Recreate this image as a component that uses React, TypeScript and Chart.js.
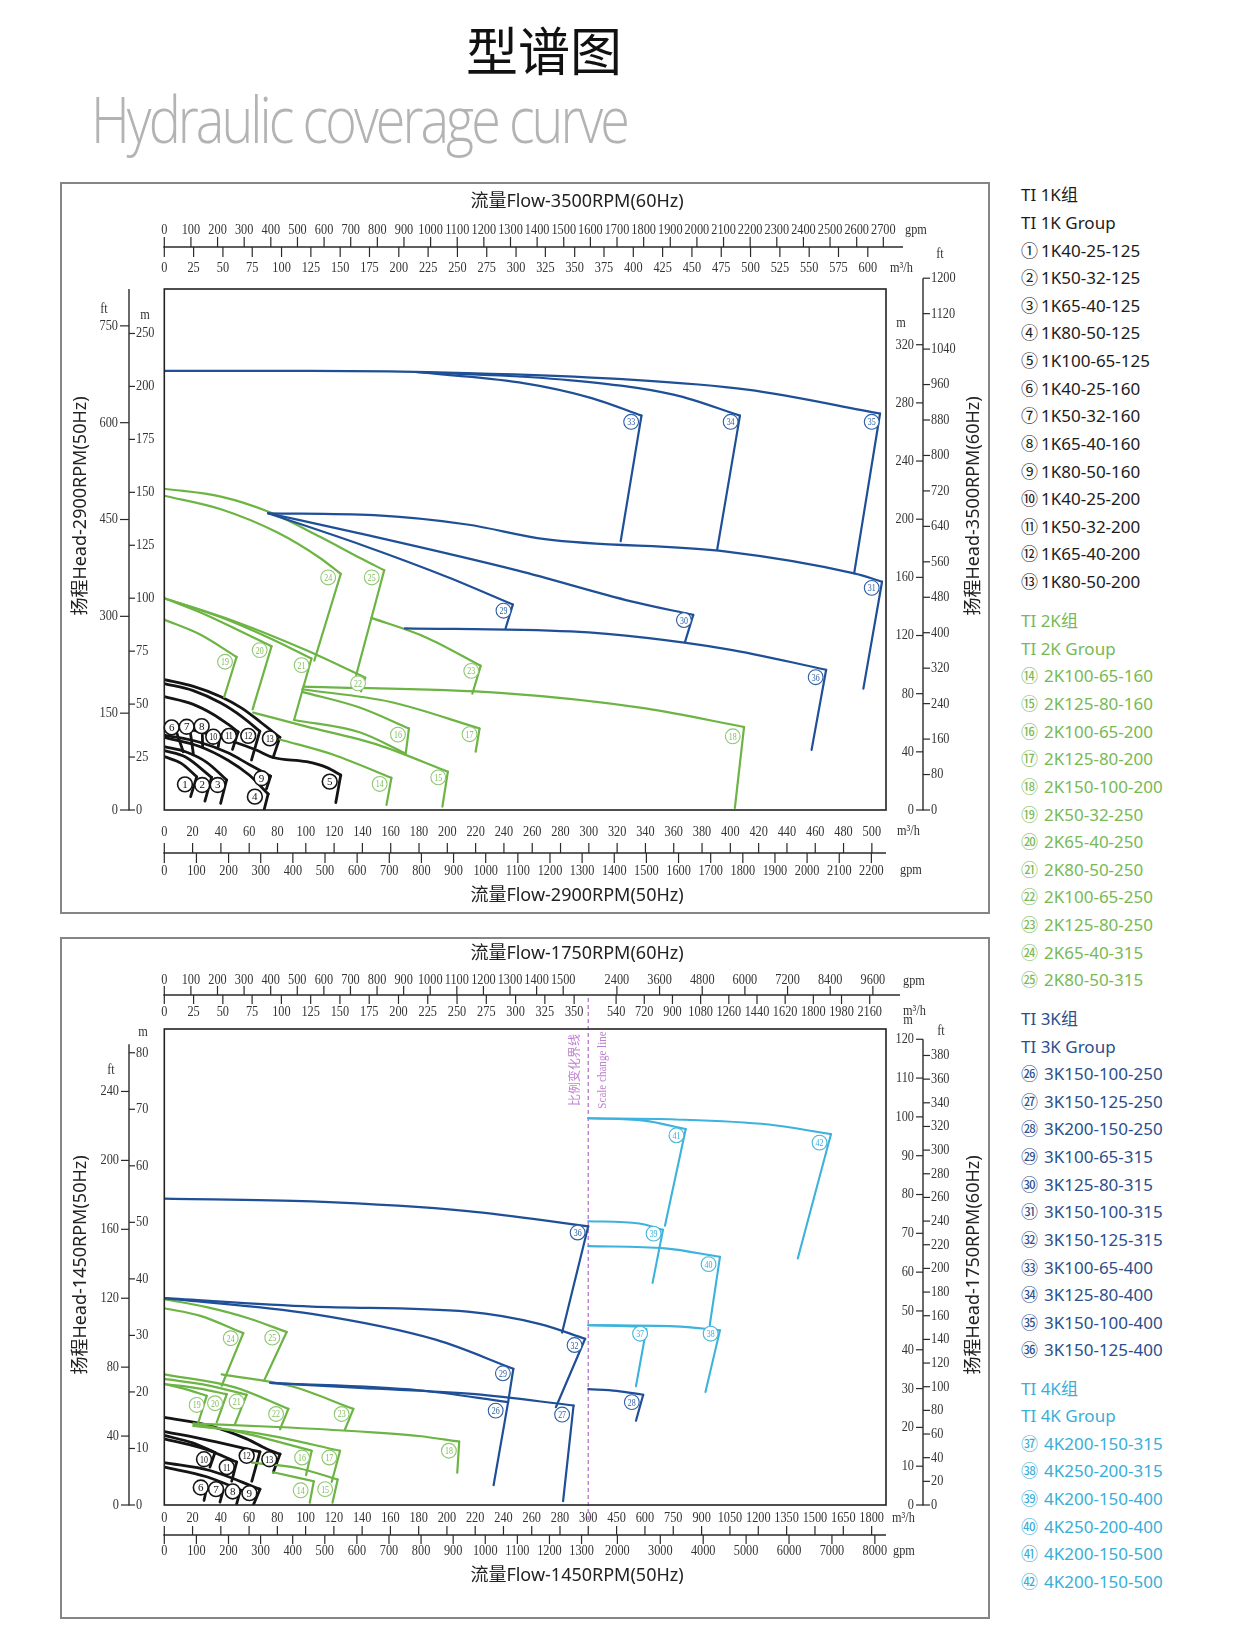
import React, { useEffect, useRef } from "react";
import { Chart, registerables, LinearScale } from "chart.js";

Chart.register(...registerables);

// ---------- unit relations read from the rulers ----------
const GPM_PER_M3H = 4.4029;
const FLOW_RATIO = 3500 / 2900; // 60Hz / 50Hz flow
const HEAD_RATIO = FLOW_RATIO * FLOW_RATIO; // 60Hz / 50Hz head
const FT_TO_M = 0.3048;
const BREAK_AT = 300; // m3/h (50Hz) where the lower chart changes scale
const BREAK_FACTOR = 7.48; // compression beyond the scale change line

class BreakLinearScale extends LinearScale {
  static id = "breakLinear";
  static defaults = {};
  tf(v: number) {
    return v <= BREAK_AT ? v : BREAK_AT + (v - BREAK_AT) / BREAK_FACTOR;
  }
  getPixelForValue(value: number) {
    const a = this.tf(this.min), b = this.tf(this.max);
    return this.getPixelForDecimal((this.tf(value) - a) / (b - a));
  }
  getValueForPixel(pixel: number) {
    const a = this.tf(this.min), b = this.tf(this.max);
    const t = a + this.getDecimalForPixel(pixel) * (b - a);
    return t <= BREAK_AT ? t : BREAK_AT + (t - BREAK_AT) * BREAK_FACTOR;
  }
}
Chart.register(BreakLinearScale);

// ---------- TOP chart (2900 rpm): x = m3/h, y = m ----------
const TOP_BLACK_LINES = [
  [[0, 61.6], [20, 58.5], [40, 53.5], [55, 48], [68, 41.5], [81.7, 34.3]],
  [[0, 59.7], [20, 56.5], [40, 50.5], [55, 44], [67.5, 37.2]],
  [[0, 53.5], [20, 50], [35, 45], [45, 40.5], [52.2, 36.9]],
  [[81.7, 34.3], [76.9, 24.8]],
  [[67.5, 37.2], [61.6, 23.6]],
  [[52.2, 36.9], [48.2, 28.6]],
  [[0, 40.1], [25, 37], [50, 32], [65, 28.3], [76.9, 24.8], [100.5, 22.8], [115, 20], [124.7, 16.5]],
  [[124.7, 16.5], [121.2, 3.5]],
  [[0, 35.4], [25, 32], [45, 27], [60, 21.5], [75.1, 16]],
  [[75.1, 16], [72.2, 10]],
  [[0, 34.3], [25, 30], [45, 23.5], [60, 16.5], [73.4, 7.6]],
  [[73.4, 7.6], [70.6, 0.3]],
  [[0, 29.9], [15, 27.5], [30, 22.5], [44, 14.2]],
  [[0, 28], [15, 25], [33.4, 15.4]],
  [[0, 25.2], [12, 22], [22.9, 15.7]],
  [[22.9, 15.7], [18.6, 6.3]],
  [[33.4, 15.4], [28.7, 4.2]],
  [[44, 14.2], [39.8, 3.1]],
  [[7.5, 39], [13.4, 27.5]],
  [[18.1, 38.2], [20.5, 26.7]],
  [[26.8, 38], [27.1, 29.9]],
  [[39.3, 34.8], [38.1, 29.9]],
];
const TOP_GREEN_LINES = [
  [[0, 151.7], [40, 148], [74.6, 140.6], [110, 129], [138, 119.1], [155.4, 113.2]],
  [[155.4, 113.2], [135.6, 63.7]],
  [[0, 148.4], [40, 142], [80, 131], [110, 119], [124.7, 111.5]],
  [[124.7, 111.5], [106, 70.5]],
  [[0, 100], [30, 92], [55, 84], [75.8, 77.3]],
  [[75.8, 77.3], [62.4, 47.5]],
  [[0, 100], [40, 91], [75, 81], [104, 71.5]],
  [[104, 71.5], [91.7, 42.5]],
  [[0, 100], [50, 89], [100, 75.5], [142, 62.5]],
  [[142, 62.5], [139, 56]],
  [[0, 89.9], [25, 83], [51.1, 72.3]],
  [[51.1, 72.3], [42.3, 53.3]],
  [[146.4, 90.7], [185, 81.5], [223.6, 68.1]],
  [[223.6, 68.1], [217.7, 54.9]],
  [[98.3, 58.3], [237.1, 55.3], [340, 48], [409.7, 39.2]],
  [[409.7, 39.2], [403.2, 1]],
  [[97.5, 57], [160, 51], [222.8, 38.5]],
  [[222.8, 38.5], [220, 27.5]],
  [[97.5, 55.8], [138, 48.4], [172.9, 38.5]],
  [[172.9, 38.5], [170.6, 26.7]],
  [[91.7, 42.5], [138, 36.7], [170.6, 26.7]],
  [[62.8, 46], [100, 39.5], [150, 31], [200.4, 18.1]],
  [[200.4, 18.1], [196.5, 1.6]],
  [[81.7, 33.3], [120, 26], [160.5, 15.2]],
  [[160.5, 15.2], [157, 2.4]],
];
const TOP_BLUE_LINES = [
  [[0, 207.3], [104, 207.3], [214, 206.3], [324, 203.4], [412, 198.5], [505.8, 187.2]],
  [[177.4, 206.8], [287.3, 202.9], [360.6, 196], [406.8, 186.2]],
  [[177.4, 206.8], [250.7, 201.9], [302, 194.5], [337.2, 186.2]],
  [[337.2, 186.2], [322.5, 126.9]],
  [[406.8, 186.2], [390.7, 123]],
  [[505.8, 187.2], [487.5, 111.7]],
  [[73.3, 140.1], [148.1, 139.2], [214, 134.8], [269, 127.9], [397.3, 122], [487.5, 111.7], [507.2, 107.8]],
  [[507.2, 107.8], [494, 57.3]],
  [[73.3, 140.1], [138, 130.6], [250, 113], [330, 98.5], [373.8, 92.1]],
  [[373.8, 92.1], [368, 79.4]],
  [[73.3, 140.1], [140, 125], [200, 110], [246.3, 97]],
  [[246.3, 97], [241.2, 85.8]],
  [[170, 85.8], [287.3, 84.3], [397.3, 76], [467.7, 66.2]],
  [[467.7, 66.2], [457.4, 28.4]],
];
const TOP_BLACK_TAGS = [
  [1, 14.6, 12.1], [2, 26.8, 11.8], [3, 37.7, 11.8], [4, 64, 6.3], [5, 116.9, 13.4],
  [6, 5.2, 39], [7, 15.8, 39.3], [8, 26.4, 39.6], [9, 68.7, 15], [10, 34.6, 34.6],
  [11, 45.7, 35], [12, 59.3, 35], [13, 74.6, 33.8],
];
const TOP_GREEN_TAGS = [
  [14, 152.2, 12.3], [15, 193.6, 15.4], [16, 165.1, 35.6], [17, 215.7, 35.8], [18, 401.7, 34.8],
  [19, 42.9, 70], [20, 67.4, 75.5], [21, 97, 68.4], [22, 136.9, 59.8], [23, 216.9, 65.7],
  [24, 115.8, 109.8], [25, 146.6, 109.8],
];
const TOP_BLUE_TAGS = [
  [29, 239.7, 94.1], [30, 367.2, 89.7], [31, 499.9, 104.9], [33, 329.9, 183.3],
  [34, 400.2, 183.3], [35, 499.9, 183.3], [36, 460.3, 62.7],
];

// ---------- BOTTOM chart (1450 rpm): x = m3/h, y = m ----------
const BOT_BLACK_LINES = [
  [[0, 15.5], [32.3, 14], [58.3, 11.7], [72.5, 9.9], [81.9, 9]],
  [[81.9, 9], [77.1, 5.8]],
  [[0, 13], [32.3, 11.4], [67.7, 9.4]],
  [[67.7, 9.4], [61.9, 4.2]],
  [[0, 12.3], [20, 11], [35.9, 9.3]],
  [[35.9, 9.3], [32.3, 6.7]],
  [[0, 11.7], [30, 9.8], [51.2, 7.6]],
  [[51.2, 7.6], [47.7, 4.2]],
  [[0, 7.5], [32.3, 6.1], [67.7, 2.8]],
  [[67.7, 2.8], [63, 0]],
  [[0, 6.7], [30, 5], [58.3, 2.2]],
  [[30, 3], [28.1, 0.8]],
  [[41.8, 2.7], [39.4, 0.5]],
  [[53.6, 2.4], [51.2, 0.2]],
];
const BOT_GREEN_LINES = [
  [[0, 36.4], [30, 35], [60, 33], [86.6, 30.6]],
  [[86.6, 30.6], [70.6, 22]],
  [[0, 34.8], [25, 33.5], [55.9, 30.4]],
  [[55.9, 30.4], [40.6, 21.1]],
  [[40.6, 23.1], [90, 21], [133.8, 17]],
  [[133.8, 17], [127.9, 13.4]],
  [[0, 23.1], [50, 20.8], [87.8, 17]],
  [[87.8, 17], [81.9, 13.4]],
  [[0, 22.3], [30, 21.2], [58.3, 19.5]],
  [[58.3, 19.5], [50, 14.3]],
  [[0, 21.4], [25, 20.6], [44.2, 19.6]],
  [[44.2, 19.6], [37.1, 14.6]],
  [[0, 21.4], [15, 20.5], [30, 19.3]],
  [[30, 19.3], [24.1, 14.6]],
  [[20.5, 14.4], [80, 13.8], [138.5, 13], [180, 12.2], [208.7, 11.2]],
  [[208.7, 11.2], [207.3, 5.7]],
  [[20.5, 14.4], [60, 12.5], [104.3, 9.6]],
  [[104.3, 9.6], [100.3, 5.3]],
  [[20.5, 14], [70, 12.5], [124.4, 9.6]],
  [[124.4, 9.6], [118.5, 4.1]],
  [[77, 5.8], [105.8, 4.2]],
  [[105.8, 4.2], [102.9, 0.4]],
  [[62, 7.5], [95, 6.5], [122.7, 4.5]],
  [[122.7, 4.5], [119, 0.4]],
];
const BOT_BLUE_LINES = [
  [[0, 54.2], [104.4, 53.7], [214.6, 52], [300, 49.3]],
  [[300, 49.3], [281.5, 30.5]],
  [[0, 36.6], [104.4, 35.1], [214.6, 34.2], [266, 32], [297.8, 29.4]],
  [[297.8, 29.4], [277.1, 17.3]],
  [[0, 36.6], [104.4, 33.8], [192.6, 29.2], [247, 24.1]],
  [[247, 24.1], [243.3, 18.2]],
  [[75, 21.6], [180, 20.3], [243.3, 18.2]],
  [[243.3, 18.2], [233, 3.5]],
  [[75, 21.6], [138.5, 20.7], [220, 19.6], [289.6, 17.6]],
  [[289.6, 17.6], [282.2, 0.7]],
  [[300, 20.5], [450, 20.2], [591, 19.5]],
  [[591, 19.5], [552.6, 14.9]],
];
const BOT_CYAN_LINES = [
  [[300, 68.4], [761, 68.2], [1255, 67.3], [1584.7, 65.6]],
  [[1584.7, 65.6], [1409, 43.6]],
  [[300, 68.4], [596, 68], [816, 66.5]],
  [[816, 66.5], [706, 49.4]],
  [[300, 50.2], [569, 49.8], [695.7, 48.7]],
  [[695.7, 48.7], [640.4, 39.3]],
  [[300, 45.8], [706.3, 45.4], [997.2, 43.9]],
  [[997.2, 43.9], [943, 31.8]],
  [[300, 31.8], [541.6, 31.6], [607.4, 31.1]],
  [[607.4, 31.1], [552.5, 21]],
  [[300, 31.8], [761, 31.6], [997.2, 30.9]],
  [[997.2, 30.9], [920.4, 20]],
];
const BOT_BLACK_TAGS = [
  [6, 25.8, 3.1], [7, 36.6, 2.8], [8, 48.4, 2.4], [9, 60.2, 2.1],
  [10, 28.1, 8.1], [11, 44.2, 6.7], [12, 58.3, 8.7], [13, 74.3, 8.1],
];
const BOT_GREEN_TAGS = [
  [14, 96.5, 2.6], [15, 113.8, 2.8], [16, 97.5, 8.4], [17, 116.8, 8.4], [18, 201.4, 9.6],
  [19, 22.9, 17.7], [20, 35.9, 18], [21, 51.2, 18.3], [22, 79.1, 16.1], [23, 125.5, 16.1],
  [24, 47, 29.5], [25, 76.4, 29.6],
];
const BOT_BLUE_TAGS = [
  [26, 234.5, 16.7], [27, 281.5, 16], [28, 530.6, 18.2], [29, 239.6, 23.3],
  [32, 290.3, 28.3], [36, 292.5, 48.2],
];
const BOT_CYAN_TAGS = [
  [37, 574.4, 30.3], [38, 947.8, 30.3], [39, 645.9, 48], [40, 936.8, 42.6],
  [41, 766.7, 65.4], [42, 1524.3, 64.1],
];

// ---------- tick label lists ----------
const TOP_GPM60 = [0, 100, 200, 300, 400, 500, 600, 700, 800, 900, 1000, 1100, 1200, 1300, 1400, 1500, 1600, 1700, 1800, 1900, 2000, 2100, 2200, 2300, 2400, 2500, 2600, 2700];
const TOP_M3H60 = [0, 25, 50, 75, 100, 125, 150, 175, 200, 225, 250, 275, 300, 325, 350, 375, 400, 425, 450, 475, 500, 525, 550, 575, 600];
const TOP_M3H50 = [0, 20, 40, 60, 80, 100, 120, 140, 160, 180, 200, 220, 240, 260, 280, 300, 320, 340, 360, 380, 400, 420, 440, 460, 480, 500];
const TOP_GPM50 = [0, 100, 200, 300, 400, 500, 600, 700, 800, 900, 1000, 1100, 1200, 1300, 1400, 1500, 1600, 1700, 1800, 1900, 2000, 2100, 2200];
const TOP_M_LEFT = [0, 25, 50, 75, 100, 125, 150, 175, 200, 225];
const TOP_M_LEFT_LABELS = ["0", "25", "50", "75", "100", "125", "150", "175", "200", "250"];
const TOP_FT_LEFT = [0, 150, 300, 450, 600, 750];
const TOP_M_RIGHT = [0, 40, 80, 120, 160, 200, 240, 280, 320];
const TOP_FT_RIGHT = [0, 80, 160, 240, 320, 400, 480, 560, 640, 720, 800, 880, 960, 1040, 1120, 1200];

const BOT_GPM60 = [0, 100, 200, 300, 400, 500, 600, 700, 800, 900, 1000, 1100, 1200, 1300, 1400, 1500, 2400, 3600, 4800, 6000, 7200, 8400, 9600];
const BOT_M3H60 = [0, 25, 50, 75, 100, 125, 150, 175, 200, 225, 250, 275, 300, 325, 350, 540, 720, 900, 1080, 1260, 1440, 1620, 1800, 1980, 2160];
const BOT_M3H50 = [0, 20, 40, 60, 80, 100, 120, 140, 160, 180, 200, 220, 240, 260, 280, 300, 450, 600, 750, 900, 1050, 1200, 1350, 1500, 1650, 1800];
const BOT_GPM50 = [0, 100, 200, 300, 400, 500, 600, 700, 800, 900, 1000, 1100, 1200, 1300, 2000, 3000, 4000, 5000, 6000, 7000, 8000];
const BOT_M_LEFT = [0, 10, 20, 30, 40, 50, 60, 70, 80];
const BOT_FT_LEFT = [0, 40, 80, 120, 160, 200, 240];
const BOT_M_RIGHT = [0, 10, 20, 30, 40, 50, 60, 70, 80, 90, 100, 110, 120];
const BOT_FT_RIGHT = [0, 20, 40, 60, 80, 100, 120, 140, 160, 180, 200, 220, 240, 260, 280, 300, 320, 340, 360, 380];

// ---------- legend ----------
const NAMES_1K = ["1K40-25-125", "1K50-32-125", "1K65-40-125", "1K80-50-125", "1K100-65-125", "1K40-25-160", "1K50-32-160", "1K65-40-160", "1K80-50-160", "1K40-25-200", "1K50-32-200", "1K65-40-200", "1K80-50-200"];
const NAMES_2K = ["2K100-65-160", "2K125-80-160", "2K100-65-200", "2K125-80-200", "2K150-100-200", "2K50-32-250", "2K65-40-250", "2K80-50-250", "2K100-65-250", "2K125-80-250", "2K65-40-315", "2K80-50-315"];
const NAMES_3K = ["3K150-100-250", "3K150-125-250", "3K200-150-250", "3K100-65-315", "3K125-80-315", "3K150-100-315", "3K150-125-315", "3K100-65-400", "3K125-80-400", "3K150-100-400", "3K150-125-400"];
const NAMES_4K = ["4K200-150-315", "4K250-200-315", "4K200-150-400", "4K250-200-400", "4K200-150-500", "4K200-150-500"];

// ---------- styles ----------
const C_BLACK = "#141414";
const C_GREEN = "#6cb444";
const C_BLUE = "#1f4f97";
const C_CYAN = "#3cb2dc";
const INK = "#2a2a2a";
const TICK_FONT = '15px "Liberation Serif", "Times New Roman", serif';
const TICK_SX = 0.82;
const SANS = '"Noto Sans", "Noto Sans CJK SC", sans-serif';
const TITLE_FONT = "18px " + SANS;

function circled(n: number) {
  if (n <= 20) return String.fromCodePoint(0x2460 + n - 1);
  if (n <= 35) return String.fromCodePoint(0x3251 + n - 21);
  return String.fromCodePoint(0x32b1 + n - 36);
}

function mk(lines: number[][][], color: string, width: number) {
  return lines.map((pts) => ({
    data: pts.map(([x, y]) => ({ x, y })),
    borderColor: color,
    borderWidth: width,
    pointRadius: 0,
    fill: false,
    cubicInterpolationMode: "monotone",
    borderCapStyle: "round",
    borderJoinStyle: "round",
  }));
}

function txt(ctx: CanvasRenderingContext2D, s: string, x: number, y: number, font: string, color: string, align: CanvasTextAlign = "center", sx = 1, rot = 0) {
  ctx.save();
  ctx.translate(x, y);
  if (rot) ctx.rotate(rot);
  ctx.scale(sx, 1);
  ctx.font = font;
  ctx.fillStyle = color;
  ctx.textAlign = align;
  ctx.textBaseline = "middle";
  ctx.fillText(s, 0, 0);
  ctx.restore();
}

function seg(ctx: CanvasRenderingContext2D, x1: number, y1: number, x2: number, y2: number) {
  ctx.beginPath();
  ctx.moveTo(x1, y1);
  ctx.lineTo(x2, y2);
  ctx.stroke();
}

const toM3h60 = (q: number) => q / FLOW_RATIO;
const toGpm60 = (g: number) => g / GPM_PER_M3H / FLOW_RATIO;
const toM3h50 = (q: number) => q;
const toGpm50 = (g: number) => g / GPM_PER_M3H;
const hM50 = (m: number) => m;
const hFt50 = (f: number) => f * FT_TO_M;
const hM60 = (m: number) => m / HEAD_RATIO;
const hFt60 = (f: number) => f * FT_TO_M / HEAD_RATIO;

type TickSet = { vals: number[]; labels?: string[]; conv: (v: number) => number };

function drawRuler(ctx, chart, spec, r) {
  const xs = chart.scales.x;
  const y = r.y - spec.oy;
  ctx.strokeStyle = INK;
  ctx.lineWidth = 1.4;
  seg(ctx, chart.chartArea.left - 1, y, r.end - spec.ox, y);
  ctx.lineWidth = 1.2;
  const sets: [TickSet, number, number][] = [[r.up, -1, r.upOff], [r.down, 1, r.downOff]];
  sets.forEach(([ts, dir, off]) => {
    ts.vals.forEach((v, i) => {
      const px = xs.getPixelForValue(ts.conv(v));
      seg(ctx, px, y, px, y + dir * r.tick);
      txt(ctx, ts.labels ? ts.labels[i] : String(v), px, y + dir * off, TICK_FONT, "#333", "center", TICK_SX);
    });
  });
  r.units.forEach(([s, x, yy]) => txt(ctx, s, x - spec.ox, yy - spec.oy, TICK_FONT, "#333", "left", TICK_SX));
}

function drawAxis(ctx, chart, spec, a) {
  const ys = chart.scales.y;
  const x = a.x - spec.ox;
  ctx.strokeStyle = INK;
  ctx.lineWidth = 1.4;
  seg(ctx, x, ys.getPixelForValue(0) + 0.5, x, a.topY !== undefined ? a.topY - spec.oy : ys.getPixelForValue(a.topHead));
  ctx.lineWidth = 1.2;
  a.left.vals.forEach((v, i) => {
    const py = ys.getPixelForValue(a.left.conv(v));
    seg(ctx, x - a.tickL, py, x, py);
    txt(ctx, a.left.labels ? a.left.labels[i] : String(v), x - a.tickL - 2, py, TICK_FONT, "#333", "right", TICK_SX);
  });
  a.right.vals.forEach((v, i) => {
    const py = ys.getPixelForValue(a.right.conv(v));
    seg(ctx, x, py, x + a.tickR, py);
    txt(ctx, a.right.labels ? a.right.labels[i] : String(v), x + a.tickR + 1, py, TICK_FONT, "#333", "left", TICK_SX);
  });
  a.units.forEach(([s, ux, uy]) => txt(ctx, s, ux - spec.ox, uy - spec.oy, TICK_FONT, "#333", "center", TICK_SX));
}

function drawTags(ctx, chart, tags, stroke, text, lw) {
  const xs = chart.scales.x, ys = chart.scales.y;
  tags.forEach(([n, x, y]) => {
    const px = xs.getPixelForValue(x), py = ys.getPixelForValue(y);
    ctx.beginPath();
    ctx.arc(px, py, 7.4, 0, Math.PI * 2);
    ctx.fillStyle = "#fff";
    ctx.fill();
    ctx.lineWidth = lw;
    ctx.strokeStyle = stroke;
    ctx.stroke();
    txt(ctx, String(n), px, py + 0.6, '11px "Liberation Serif", serif', text, "center", n >= 10 ? 0.72 : 1);
  });
}

function decorPlugin(spec) {
  return {
    id: "decor",
    beforeDatasetsDraw(chart) {
      const ctx = chart.ctx;
      ctx.save();
      const [bx0, by0, bx1, by1] = spec.box;
      ctx.strokeStyle = "#858585";
      ctx.lineWidth = 2;
      ctx.strokeRect(bx0 - spec.ox, by0 - spec.oy, bx1 - bx0, by1 - by0);
      spec.rulers.forEach((r) => drawRuler(ctx, chart, spec, r));
      spec.axes.forEach((a) => drawAxis(ctx, chart, spec, a));
      spec.titles.forEach(([s, x, y, rot]) => txt(ctx, s, x - spec.ox, y - spec.oy, TITLE_FONT, "#222", "center", 1, rot));
      if (spec.breakLine) {
        const b = spec.breakLine;
        const px = chart.scales.x.getPixelForValue(BREAK_AT);
        ctx.strokeStyle = "#b776cc";
        ctx.lineWidth = 1.3;
        ctx.setLineDash([4, 3]);
        seg(ctx, px, b.y0 - spec.oy, px, b.y1 - spec.oy);
        ctx.setLineDash([]);
        txt(ctx, "比例变化界线", px - 14, b.ty - spec.oy, '12px "Noto Sans CJK SC", sans-serif', "#c07ed2", "center", 1, -Math.PI / 2);
        txt(ctx, "Scale change line", px + 14, b.ty - spec.oy, '13px "Liberation Serif", serif', "#c07ed2", "center", 0.85, -Math.PI / 2);
      }
      ctx.restore();
    },
    afterDatasetsDraw(chart) {
      const ctx = chart.ctx;
      ctx.save();
      const ca = chart.chartArea;
      ctx.strokeStyle = "#222";
      ctx.lineWidth = 1.6;
      ctx.strokeRect(ca.left, ca.top, ca.right - ca.left, ca.bottom - ca.top);
      spec.tags.forEach(([tags, stroke, text, lw]) => drawTags(ctx, chart, tags, stroke, text, lw));
      ctx.restore();
    },
  };
}

const TAG_BLACK = [C_BLACK, C_BLACK, 1.6];
const TAG_GREEN = ["#8fc670", "#7fbd5d", 1.1];
const TAG_BLUE = ["#2c5ea3", "#2c5ea3", 1.1];
const TAG_CYAN = ["#43b6de", "#3aaed8", 1.1];

const TOP_SPEC = {
  ox: 56, oy: 176, w: 940, h: 744,
  pad: { left: 108.3, top: 113, right: 110, bottom: 110 },
  xType: "linear", xMax: 510, yMax: 246,
  box: [61, 183, 989, 913],
  titles: [
    ["流量Flow-3500RPM(60Hz)", 577, 202, 0],
    ["流量Flow-2900RPM(50Hz)", 577, 896, 0],
    ["扬程Head-2900RPM(50Hz)", 81, 506, -Math.PI / 2],
    ["扬程Head-3500RPM(60Hz)", 974, 506, -Math.PI / 2],
  ],
  rulers: [
    { y: 247, end: 903, tick: 10, upOff: 17, downOff: 21,
      up: { vals: TOP_GPM60, conv: toGpm60 }, down: { vals: TOP_M3H60, conv: toM3h60 },
      units: [["gpm", 905, 230], ["m³/h", 890, 268]] },
    { y: 853, end: 886, tick: 10, upOff: 21, downOff: 18,
      up: { vals: TOP_M3H50, conv: toM3h50 }, down: { vals: TOP_GPM50, conv: toGpm50 },
      units: [["m³/h", 897, 831], ["gpm", 900, 870]] },
  ],
  axes: [
    { x: 129, topY: 289, tickL: 9, tickR: 6,
      left: { vals: TOP_FT_LEFT, conv: hFt50 }, right: { vals: TOP_M_LEFT, labels: TOP_M_LEFT_LABELS, conv: hM50 },
      units: [["ft", 104, 309], ["m", 145, 315]] },
    { x: 923, topHead: hFt60(1200), tickL: 7, tickR: 7,
      left: { vals: TOP_M_RIGHT, conv: hM60 }, right: { vals: TOP_FT_RIGHT, conv: hFt60 },
      units: [["m", 901, 323], ["ft", 940, 254]] },
  ],
  tags: [
    [TOP_BLACK_TAGS, ...TAG_BLACK],
    [TOP_GREEN_TAGS, ...TAG_GREEN],
    [TOP_BLUE_TAGS, ...TAG_BLUE],
  ],
  datasets: () => [
    ...mk(TOP_BLUE_LINES, C_BLUE, 2.2),
    ...mk(TOP_GREEN_LINES, C_GREEN, 2.2),
    ...mk(TOP_BLACK_LINES, C_BLACK, 2.8),
  ],
};

const BOT_SPEC = {
  ox: 56, oy: 932, w: 940, h: 692,
  pad: { left: 108.3, top: 97, right: 110, bottom: 119 },
  xType: "breakLinear", xMax: 1876, yMax: 84.2,
  box: [61, 938, 989, 1618],
  titles: [
    ["流量Flow-1750RPM(60Hz)", 577, 954, 0],
    ["流量Flow-1450RPM(50Hz)", 577, 1576, 0],
    ["扬程Head-1450RPM(50Hz)", 81, 1265, -Math.PI / 2],
    ["扬程Head-1750RPM(60Hz)", 974, 1265, -Math.PI / 2],
  ],
  breakLine: { y0: 998, y1: 1520, ty: 1070 },
  rulers: [
    { y: 995, end: 900, tick: 9, upOff: 15, downOff: 17,
      up: { vals: BOT_GPM60, conv: toGpm60 }, down: { vals: BOT_M3H60, conv: toM3h60 },
      units: [["gpm", 903, 981], ["m³/h", 903, 1011]] },
    { y: 1535, end: 886, tick: 9, upOff: 17, downOff: 16,
      up: { vals: BOT_M3H50, conv: toM3h50 }, down: { vals: BOT_GPM50, conv: toGpm50 },
      units: [["m³/h", 892, 1518], ["gpm", 893, 1551]] },
  ],
  axes: [
    { x: 129, topHead: 81.5, tickL: 8, tickR: 6,
      left: { vals: BOT_FT_LEFT, conv: hFt50 }, right: { vals: BOT_M_LEFT, conv: hM50 },
      units: [["ft", 111, 1070], ["m", 143, 1032]] },
    { x: 923, topHead: hM60(120), tickL: 7, tickR: 7,
      left: { vals: BOT_M_RIGHT, conv: hM60 }, right: { vals: BOT_FT_RIGHT, conv: hFt60 },
      units: [["m", 908, 1020], ["ft", 941, 1031]] },
  ],
  tags: [
    [BOT_BLACK_TAGS, ...TAG_BLACK],
    [BOT_GREEN_TAGS, ...TAG_GREEN],
    [BOT_BLUE_TAGS, ...TAG_BLUE],
    [BOT_CYAN_TAGS, ...TAG_CYAN],
  ],
  datasets: () => [
    ...mk(BOT_CYAN_LINES, C_CYAN, 2.1),
    ...mk(BOT_BLUE_LINES, C_BLUE, 2.2),
    ...mk(BOT_GREEN_LINES, C_GREEN, 2.2),
    ...mk(BOT_BLACK_LINES, C_BLACK, 2.8),
  ],
};

function Panel({ spec }) {
  const ref = useRef<HTMLCanvasElement>(null);
  useEffect(() => {
    const chart = new Chart(ref.current, {
      type: "line",
      data: { datasets: spec.datasets() },
      options: {
        animation: false,
        responsive: false,
        devicePixelRatio: 1,
        events: [],
        layout: { padding: spec.pad },
        plugins: { legend: { display: false }, tooltip: { enabled: false }, title: { display: false } },
        scales: {
          x: { type: spec.xType, min: 0, max: spec.xMax, display: false },
          y: { type: "linear", min: 0, max: spec.yMax, display: false },
        },
      },
      plugins: [decorPlugin(spec)],
    });
    return () => chart.destroy();
  }, []);
  return (
    <canvas
      ref={ref}
      width={spec.w}
      height={spec.h}
      style={{ position: "absolute", left: spec.ox, top: spec.oy, width: spec.w, height: spec.h }}
    />
  );
}

const LEGEND_GROUPS = [
  { head: "TI 1K组", sub: "TI 1K Group", color: "#1c1c1c", first: 1, names: NAMES_1K, y0: 195.3, nameX: 1041 },
  { head: "TI 2K组", sub: "TI 2K Group", color: "#78b955", first: 14, names: NAMES_2K, y0: 621.1, nameX: 1044 },
  { head: "TI 3K组", sub: "TI 3K Group", color: "#2b4f8c", first: 26, names: NAMES_3K, y0: 1018.9, nameX: 1044 },
  { head: "TI 4K组", sub: "TI 4K Group", color: "#3aaed8", first: 37, names: NAMES_4K, y0: 1388.6, nameX: 1044 },
];
const ROW = 27.63;

function Legend() {
  const items = [];
  LEGEND_GROUPS.forEach((g, gi) => {
    const base = { position: "absolute", font: "17px " + SANS, color: g.color, lineHeight: "24px", whiteSpace: "nowrap" } as any;
    items.push(<div key={gi + "h"} style={{ ...base, left: 1021, top: g.y0 - 12 }}>{g.head}</div>);
    items.push(<div key={gi + "s"} style={{ ...base, left: 1021, top: g.y0 + ROW - 12 }}>{g.sub}</div>);
    g.names.forEach((n, i) => {
      const y = g.y0 + (i + 2) * ROW - 12;
      items.push(<div key={gi + "c" + i} style={{ ...base, left: 1021, top: y }}>{circled(g.first + i)}</div>);
      items.push(<div key={gi + "n" + i} style={{ ...base, left: g.nameX, top: y }}>{n}</div>);
    });
  });
  return <>{items}</>;
}

export default function App() {
  const subRef = useRef<HTMLSpanElement>(null);
  useEffect(() => {
    const el = subRef.current;
    if (el) {
      const w = el.offsetWidth;
      if (w > 0) el.style.transform = `scaleX(${536 / w})`;
    }
  }, []);
  return (
    <div style={{ position: "absolute", left: 0, top: 0, width: 1239, height: 1629, background: "#fff", overflow: "hidden" }}>
      <div style={{ position: "absolute", left: 466, top: 23, fontFamily: '"Noto Sans CJK SC", sans-serif', fontSize: 52, fontWeight: 400, lineHeight: "52px", color: "#111", whiteSpace: "nowrap" }}>
        型谱图
      </div>
      <span
        ref={subRef}
        style={{ position: "absolute", left: 91, top: 86, fontFamily: '"Open Sans", "Noto Sans", sans-serif', fontSize: 64, fontWeight: 300, lineHeight: "65px", color: "#b3b3b3", whiteSpace: "nowrap", transformOrigin: "0 0", letterSpacing: "-3.5px" }}
      >
        Hydraulic coverage curve
      </span>
      <Panel spec={TOP_SPEC} />
      <Panel spec={BOT_SPEC} />
      <Legend />
    </div>
  );
}
